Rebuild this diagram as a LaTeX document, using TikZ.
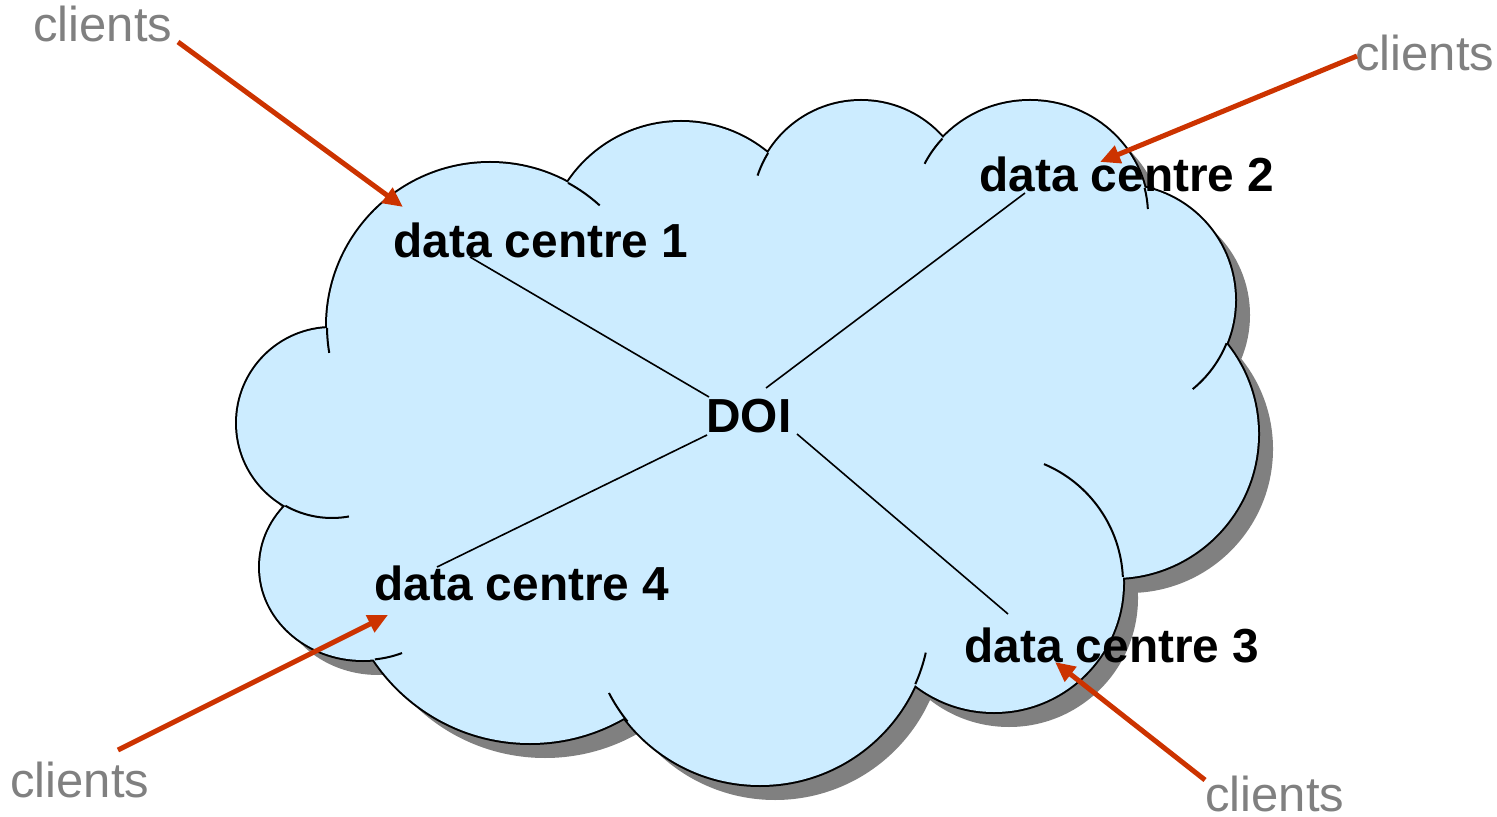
\documentclass[tikz,border=0pt]{standalone}
\usepackage{fontspec}
\setmainfont{Liberation Sans}
\usetikzlibrary{arrows.meta}
\definecolor{cloudblue}{RGB}{204,236,255}
\definecolor{shadowgray}{RGB}{128,128,128}
\definecolor{textgray}{RGB}{128,128,128}
\definecolor{clientred}{RGB}{204,51,0}
\newcommand\cloudparts{%
 (490,326) circle[radius=163]
 (332,423) circle[radius=95]
 (363,567) ellipse[x radius=103, y radius=93]
 (530,555) circle[radius=188]
 (760,615) circle[radius=170]
 (994,583) circle[radius=129]
 (1114,434) circle[radius=144]
 (1120,300) circle[radius=115]
 (1030,215) ellipse[x radius=118, y radius=114]
 (861,210) circle[radius=109]
 (681,258) circle[radius=136]}
\newcommand\cloudcore{%
 (345,335) -- (570,200) -- (768,170) -- (940,160) -- (1135,200) -- (1210,345) -- (1110,570) -- (905,670) -- (625,705) -- (380,645) -- (300,500) -- cycle}
\begin{document}
\begin{tikzpicture}[x=0.5pt,y=-0.5pt,
  dclabel/.style={font=\fontsize{23.9}{28}\selectfont\bfseries, inner sep=0pt, anchor=base west},
  clientlabel/.style={font=\fontsize{24.5}{28}\selectfont, text=textgray, inner sep=0pt, anchor=base west},
  link/.style={line width=0.8pt, black},
  clientarrow/.style={line width=2.5pt, clientred, -{Triangle[length=10pt,width=9pt]}},
  innerarc/.style={line width=1pt, black}]
\useasboundingbox (0,0) rectangle (1497,817);
% shadow
\begin{scope}[shift={(15,15)}]
  \fill[shadowgray] \cloudparts;
  \fill[shadowgray] \cloudcore;
\end{scope}
% outline (outer half of a doubled stroke) and fill
\draw[line width=2pt, black] \cloudparts;
\fill[cloudblue] \cloudparts;
\fill[cloudblue] \cloudcore;
% inner arcs
\draw[innerarc] (490,326) ++(-61.4:163) arc[start angle=-61.4, end angle=-47.7, radius=163];
\draw[innerarc] (490,326) ++(179.3:163) arc[start angle=179.3, end angle=170.5, radius=163];
\draw[innerarc] (332,423) ++(119.4:95) arc[start angle=119.4, end angle=79.7, radius=95];
\draw[innerarc] (363,567) ++(83.4:103 and 93) arc[start angle=83.4, end angle=67.7, x radius=103, y radius=93];
\draw[innerarc] (760,615) ++(141.2:170) arc[start angle=141.2, end angle=152.7, radius=170];
\draw[innerarc] (760,615) ++(24.0:170) arc[start angle=24.0, end angle=12.8, radius=170];
\draw[innerarc] (994,583) ++(-2.7:129) arc[start angle=-2.7, end angle=-67.2, radius=129];
\draw[innerarc] (1120,300) ++(22.1:115) arc[start angle=22.1, end angle=50.8, radius=115];
\draw[innerarc] (1030,215) ++(-13.7:118 and 114) arc[start angle=-13.7, end angle=-3, x radius=118, y radius=114];
\draw[innerarc] (1030,215) ++(222.1:118 and 114) arc[start angle=222.1, end angle=206.7, x radius=118, y radius=114];
\draw[innerarc] (861,210) ++(211.5:109) arc[start angle=211.5, end angle=198.4, radius=109];
% connector end points
\coordinate (l1a) at (470,257); \coordinate (l1b) at (709,397);
\coordinate (l2a) at (1025,193); \coordinate (l2b) at (766,388);
\coordinate (l4a) at (437,567); \coordinate (l4b) at (707,435);
\coordinate (l3a) at (797,434); \coordinate (l3b) at (1008,614);
\draw[link] (l1a) -- (l1b);
\draw[link] (l2a) -- (l2b);
\draw[link] (l4a) -- (l4b);
\draw[link] (l3a) -- (l3b);
% labels
\node[clientlabel] (cl1) at (33,42) {clients};
\node[clientlabel] (cl2) at (1355,71) {clients};
\node[clientlabel] (cl3) at (10,797) {clients};
\node[clientlabel] (cl4) at (1205,811) {clients};
\node[dclabel] (dc1) at (393,258) {data centre 1};
\node[dclabel] (dc2) at (979,192) {data centre 2};
\node[dclabel] (dc4) at (374,600) {data centre 4};
\node[dclabel] (dc3) at (964,662) {data centre 3};
\node[dclabel] (doi) at (706,433) {DOI};
% client arrows
\coordinate (a1s) at (178,42); \coordinate (a1t) at (403,207);
\coordinate (a2s) at (1357,56); \coordinate (a2t) at (1100,162);
\coordinate (a3s) at (118,750); \coordinate (a3t) at (388,615);
\coordinate (a4s) at (1205,780); \coordinate (a4t) at (1055,662);
\draw[clientarrow] (a1s) -- (a1t);
\draw[clientarrow] (a2s) -- (a2t);
\draw[clientarrow] (a3s) -- (a3t);
\draw[clientarrow] (a4s) -- (a4t);
\end{tikzpicture}
\end{document}
